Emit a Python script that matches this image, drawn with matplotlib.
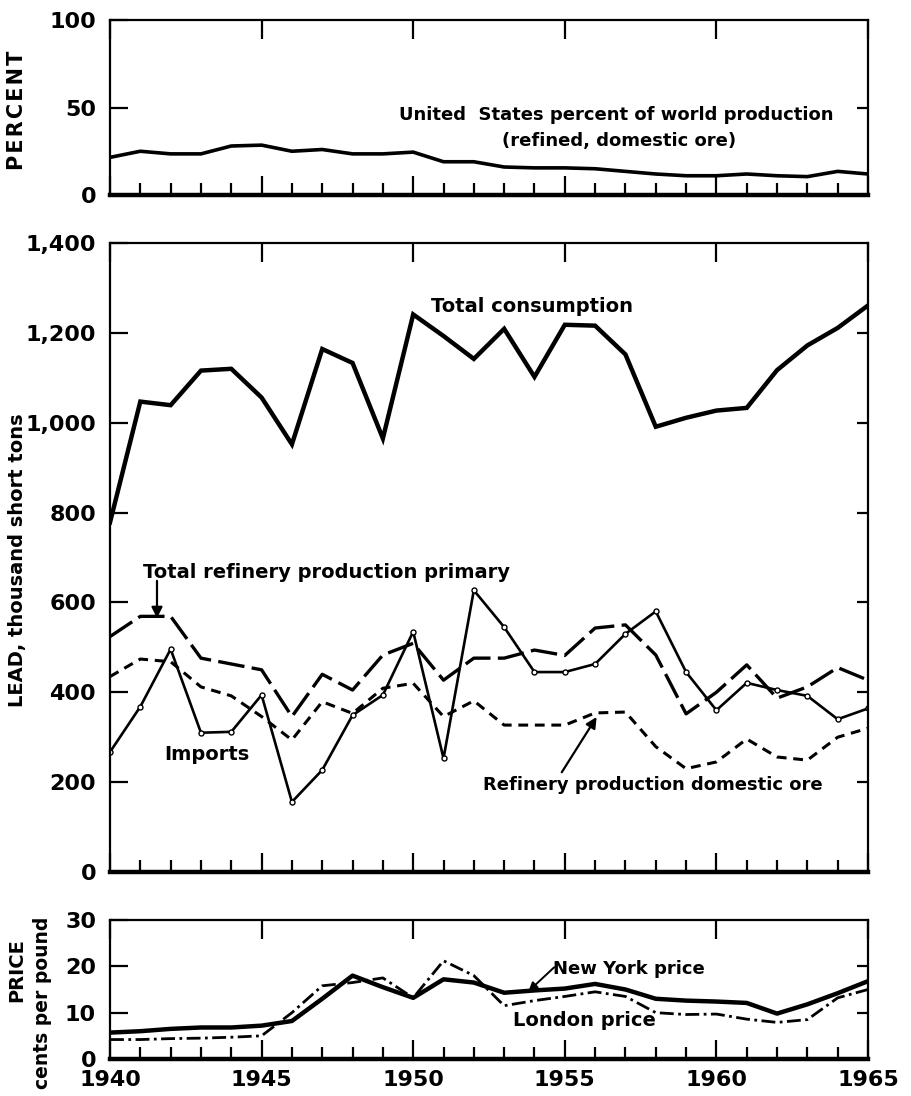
import numpy as np
import matplotlib
matplotlib.use("Agg")
import matplotlib.pyplot as plt
from matplotlib.ticker import MultipleLocator, FixedLocator, FuncFormatter

plt.rcParams['font.family'] = ['DejaVu Sans']
plt.rcParams['font.weight'] = 'bold'

years = list(range(1940, 1966))

# US share of world refined lead production, percent
us_share = [21.5, 25, 23.5, 23.5, 28, 28.5, 25, 26, 23.5, 23.5, 24.5, 19, 19,
            16, 15.5, 15.5, 15, 13.5, 12, 11, 11, 12, 11, 10.5, 13.5, 12]

# lead, thousand short tons
consumption = [778, 1047, 1039, 1116, 1120, 1056, 952, 1164, 1133, 965, 1241,
               1193, 1142, 1209, 1102, 1218, 1216, 1152, 991, 1011, 1027, 1033,
               1117, 1172, 1211, 1261]
refinery_primary = [524, 569, 569, 476, 463, 450, 346, 440, 405, 483, 509, 427,
                    476, 476, 494, 482, 543, 550, 483, 352, 400, 461, 387, 412,
                    455, 427]
refinery_domestic = [435, 474, 468, 412, 392, 346, 294, 379, 353, 409, 420, 346,
                     381, 327, 327, 327, 354, 356, 279, 230, 245, 296, 256, 249,
                     300, 320]
imports = [267, 368, 496, 310, 312, 394, 156, 227, 349, 394, 535, 253, 627, 545,
           445, 445, 463, 530, 580, 445, 360, 421, 405, 392, 340, 364]

# prices, cents per pound
ny_price = [5.7, 6.0, 6.5, 6.8, 6.8, 7.2, 8.2, 13.0, 18.0, 15.5, 13.2, 17.2, 16.5,
            14.3, 14.8, 15.2, 16.2, 15.0, 13.0, 12.6, 12.4, 12.1, 9.8, 11.8, 14.2,
            16.8]
london_price = [4.2, 4.2, 4.4, 4.5, 4.7, 5.0, 10.0, 15.8, 16.5, 17.5, 13.2, 21.2,
                18.0, 11.5, 12.6, 13.5, 14.5, 13.5, 10.0, 9.6, 9.7, 8.6, 7.9, 8.5,
                13.2, 15.0]

W, H = 912, 1096
fig = plt.figure(figsize=(W / 100, H / 100), dpi=100)


def px_axes(top, bottom, left=110, right=868):
    return fig.add_axes([left / W, 1 - bottom / H, (right - left) / W, (bottom - top) / H])


def style(ax, yticks, right_ticks, show_x=False):
    ax.set_xlim(1940, 1965)
    for s in ['left', 'right', 'top']:
        ax.spines[s].set_linewidth(1.6)
    ax.spines['bottom'].set_linewidth(3.2)
    ax.xaxis.set_major_locator(MultipleLocator(5))
    ax.xaxis.set_minor_locator(MultipleLocator(1))
    ax.tick_params(axis='x', which='major', direction='in', length=14, width=1.6,
                   top=True, bottom=True, labelbottom=show_x, labelsize=16, pad=8)
    ax.tick_params(axis='x', which='minor', direction='in', length=9, width=1.6,
                   top=False, bottom=True)
    ax.yaxis.set_major_locator(FixedLocator(yticks))
    ax.tick_params(axis='y', which='major', direction='in', length=13, width=1.6,
                   left=True, right=False, labelsize=16, pad=10)
    # short inward marks on the right-hand frame
    for v in right_ticks:
        ax.plot([0.985, 1.0], [v, v], transform=ax.get_yaxis_transform(),
                color='black', lw=1.6, clip_on=False, solid_capstyle='butt')
    for lab in ax.get_xticklabels() + ax.get_yticklabels():
        lab.set_fontweight('bold')


arrow = dict(arrowstyle='-|>', color='black', lw=1.6, mutation_scale=16,
             shrinkA=0, shrinkB=0)

# ---- percent of world production
ax1 = px_axes(20, 195)
ax1.plot(years, us_share, color='black', lw=2.6)
ax1.set_ylim(0, 100)
style(ax1, [0, 50, 100], [50])
ax1.text(1956.7, 46, 'United  States percent of world production', ha='center',
         va='center', fontsize=13)
ax1.text(1956.8, 31, '(refined, domestic ore)', ha='center', va='center',
         fontsize=13)
fig.text(17 / W, 1 - 110 / H, '\u200a'.join('PERCENT'), rotation=90,
         ha='center', va='center', fontsize=15)

# ---- lead supply and consumption
ax2 = px_axes(243, 872)
ax2.plot(years, consumption, color='black', lw=3.2, solid_joinstyle='miter')
ax2.plot(years, refinery_primary, color='black', lw=2.4, dashes=(8, 2.2))
ax2.plot(years, refinery_domestic, color='black', lw=2.2, dashes=(3.2, 2.2))
ax2.plot(years, imports, color='black', lw=1.9, marker='o', markersize=3.6,
         markerfacecolor='white', markeredgecolor='black', markeredgewidth=1.0)
ax2.set_ylim(0, 1400)
style(ax2, list(range(0, 1401, 200)), list(range(200, 1201, 200)))
ax2.yaxis.set_major_formatter(FuncFormatter(lambda v, p: f'{int(v):,}'))

ax2.text(1950.6, 1258, 'Total consumption', ha='left', va='center', fontsize=14)
ax2.text(1941.1, 667, 'Total refinery production primary', ha='left',
         va='center', fontsize=14)
ax2.annotate('', xy=(1941.55, 565), xytext=(1941.55, 648), arrowprops=arrow)
ax2.text(1941.8, 262, 'Imports', ha='left', va='center', fontsize=14)
ax2.text(1952.3, 193, 'Refinery production domestic ore', ha='left',
         va='center', fontsize=13)
ax2.annotate('', xy=(1956.05, 345), xytext=(1954.9, 222), arrowprops=arrow)
fig.text(18 / W, 1 - 560 / H, 'LEAD, thousand short tons', rotation=90,
         ha='center', va='center', fontsize=14)

# ---- prices
ax3 = px_axes(920, 1059)
ax3.plot(years, ny_price, color='black', lw=3.2)
ax3.plot(years, london_price, color='black', lw=2.0, dashes=(5, 1.6, 1, 1.6))
ax3.set_ylim(0, 30)
style(ax3, [0, 10, 20, 30], [10, 20], show_x=True)
ax3.text(1954.6, 19.4, 'New York price', ha='left', va='center', fontsize=13)
ax3.annotate('', xy=(1953.8, 14.6), xytext=(1954.65, 19.8),
             arrowprops=dict(arrow, lw=1.4, mutation_scale=13))
ax3.text(1953.3, 8.3, 'London price', ha='left', va='center', fontsize=14)
fig.text(17 / W, 1 - 970 / H, 'PRICE', rotation=90, ha='center', va='center',
         fontsize=14)
fig.text(43 / W, 1 - 1003 / H, 'cents per pound', rotation=90, ha='center',
         va='center', fontsize=13.5)

fig.savefig('out.png', dpi=100)
